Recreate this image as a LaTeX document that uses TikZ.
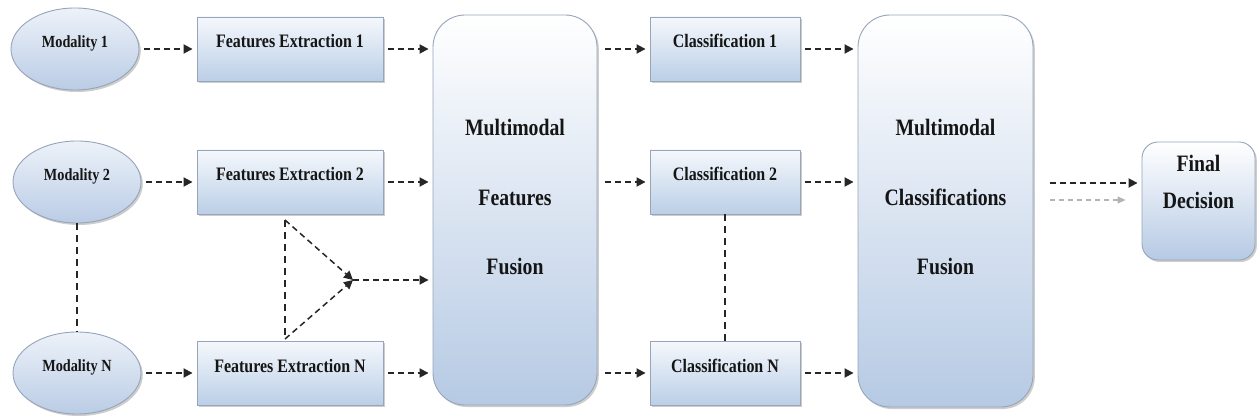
\documentclass[tikz,border=0pt]{standalone}
\usepackage{fontspec}
\setmainfont{Liberation Serif}
\newfontfamily\narrowserif[FakeStretch=0.84]{Liberation Serif}
\usetikzlibrary{arrows.meta,shapes.geometric,shadows}

\definecolor{rim}{HTML}{97A4BA}
\definecolor{boxtop}{HTML}{F5F8FC}
\definecolor{boxbot}{HTML}{BBCFE7}
\definecolor{elltop}{HTML}{EDF2F9}
\definecolor{ellbot}{HTML}{BACCE5}
\definecolor{bigtop}{HTML}{FFFFFF}
\definecolor{bigbot}{HTML}{B6CAE4}
\definecolor{ink}{HTML}{151515}
\definecolor{flow}{HTML}{262626}
\definecolor{ghost}{HTML}{B4B4B4}

\tikzset{
  softshadow/.style={drop shadow={shadow xshift=1.8pt,shadow yshift=-2pt,opacity=0.28,fill=black!70}},
  smallbox/.style={rectangle,draw=rim,line width=0.9pt,top color=boxtop,bottom color=boxbot,
    softshadow,minimum height=64pt,inner sep=0pt,text=ink,
    font=\narrowserif\fontsize{19}{21}\selectfont\bfseries,text height=13pt,text depth=15pt},
  modality/.style={ellipse,draw=rim,line width=0.9pt,top color=elltop,bottom color=ellbot,
    softshadow,minimum width=128pt,minimum height=82pt,inner sep=0pt,text=ink,
    font=\narrowserif\fontsize{17}{19}\selectfont\bfseries,text height=12pt,text depth=15pt},
  bigbox/.style={rectangle,rounded corners=32pt,draw=rim,line width=0.9pt,
    top color=bigtop,bottom color=bigbot,softshadow,inner sep=0pt},
  bigtext/.style={align=center,text=ink,font=\narrowserif\fontsize{23.5}{69.5}\selectfont\bfseries},
  flowarrow/.style={draw=flow,line width=1.8pt,dash pattern=on 6pt off 4pt,
    -{Triangle[length=9pt,width=9pt]},shorten <=5pt,shorten >=4pt},
  ghostarrow/.style={draw=ghost,line width=1.2pt,dash pattern=on 5pt off 4pt,
    -{Triangle[length=8pt,width=7pt]}},
  linkline/.style={draw=flow,line width=1.6pt,dash pattern=on 7pt off 5pt}
}

\begin{document}
\begin{tikzpicture}[x=1pt,y=-1pt]
  % canvas
  \fill[white] (0,0) rectangle (1257,419);
  \useasboundingbox (0,0) rectangle (1257,419);

  % input modalities
  \node[modality] (m1) at (75,49)  {Modality 1};
  \node[modality] (m2) at (77,182) {Modality 2};
  \node[modality] (mN) at (77,373) {Modality N};

  % feature extractors
  \node[smallbox,minimum width=186pt] (fe1) at (290,49)  {Features Extraction 1};
  \node[smallbox,minimum width=186pt] (fe2) at (290,182) {Features Extraction 2};
  \node[smallbox,minimum width=186pt] (feN) at (290,373) {Features Extraction N};

  % feature-level fusion
  \node[bigbox,minimum width=164pt,minimum height=390pt] (mff) at (515,210) {};
  \node[bigtext] (mfftext) at ([yshift=13pt]mff.center) {Multimodal\\Features\\Fusion};

  % classifiers
  \node[smallbox,minimum width=150pt] (c1) at (725,49)  {Classification 1};
  \node[smallbox,minimum width=150pt] (c2) at (725,182) {Classification 2};
  \node[smallbox,minimum width=150pt] (cN) at (725,373) {Classification N};

  % decision-level fusion
  \node[bigbox,minimum width=175pt,minimum height=392pt] (mcf) at (945.5,211) {};
  \node[bigtext] (mcftext) at ([yshift=14pt]mcf.center) {Multimodal\\Classifications\\Fusion};

  % final decision
  \node[bigbox,rounded corners=16pt,minimum width=113pt,minimum height=118pt] (fd) at (1198.5,201) {};
  \node[bigtext,font=\narrowserif\fontsize{23.5}{37}\selectfont\bfseries] (fdtext) at ([yshift=19pt]fd.center) {Final\\Decision};

  % modality -> features
  \draw[flowarrow] (m1) -- (fe1);
  \draw[flowarrow] (m2) -- (fe2);
  \draw[flowarrow] (mN) -- (feN);

  % features -> fusion
  \draw[flowarrow] (fe1.east) -- (fe1.east -| mff.west);
  \draw[flowarrow] (fe2.east) -- (fe2.east -| mff.west);
  \draw[flowarrow] (feN.east) -- (feN.east -| mff.west);

  % fusion -> classifiers
  \draw[flowarrow,shorten <=8pt] (c1.west -| mff.east) -- (c1.west);
  \draw[flowarrow,shorten <=8pt] (c2.west -| mff.east) -- (c2.west);
  \draw[flowarrow,shorten <=8pt] (cN.west -| mff.east) -- (cN.west);

  % classifiers -> fusion
  \draw[flowarrow] (c1.east) -- (c1.east -| mcf.west);
  \draw[flowarrow] (c2.east) -- (c2.east -| mcf.west);
  \draw[flowarrow] (cN.east) -- (cN.east -| mcf.west);

  % fusion -> final decision
  \draw[flowarrow,shorten <=17pt] ([yshift=28pt]mcf.east) -- ([yshift=18pt]fd.west);
  \draw[ghostarrow,shorten <=17pt,shorten >=16pt] ([yshift=11pt]mcf.east) -- ([yshift=1pt]fd.west);

  % omitted intermediate branches
  \draw[linkline] (m2.south) -- (mN.north);
  \draw[linkline] (c2.south) -- (cN.north);

  % cross-feature combination
  \coordinate (t1) at (285,220);
  \coordinate (t2) at (285,339);
  \coordinate (tip) at (353,280);
  \draw[linkline,line width=1.5pt] (t1) -- (t2);
  \draw[flowarrow,line width=1.5pt,shorten <=0pt,shorten >=0pt] (t1) -- (tip);
  \draw[flowarrow,line width=1.5pt,shorten <=0pt,shorten >=0pt] (t2) -- (tip);
  \draw[flowarrow,shorten <=0pt] (tip) -- (tip -| mff.west);
\end{tikzpicture}
\end{document}
